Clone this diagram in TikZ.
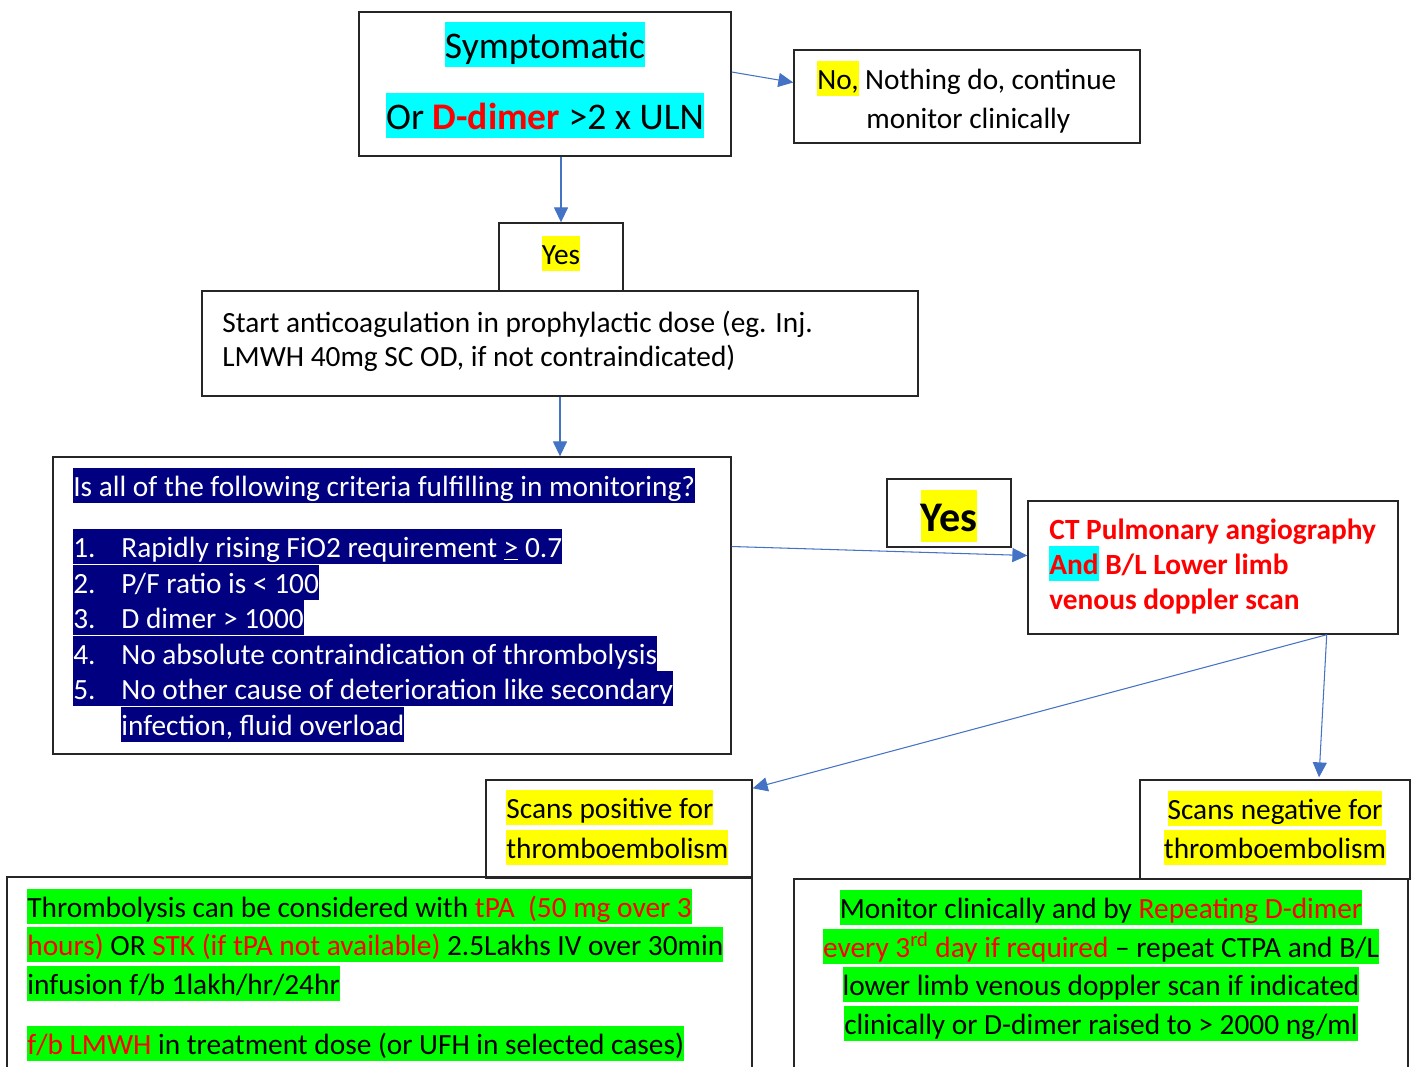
\documentclass[tikz,border=0pt]{standalone}
\usepackage{fontspec}
\setmainfont{Carlito}
\usetikzlibrary{arrows.meta, fit, calc}

\definecolor{hlcyan}{RGB}{0,255,255}
\definecolor{hlyellow}{RGB}{255,255,0}
\definecolor{hlgreen}{RGB}{0,255,0}
\definecolor{hlnavy}{RGB}{0,0,128}
\definecolor{txtred}{RGB}{255,0,0}
\definecolor{arrowblue}{RGB}{68,114,196}

\newcommand{\hlstrut}{\rule[-0.25em]{0pt}{1.22em}}
\newcommand{\hl}[2]{{\setlength{\fboxsep}{0pt}\colorbox{#1}{\hlstrut#2}}}
\newcommand{\rd}[1]{\textcolor{txtred}{#1}}
\newcommand{\critem}[2]{\hl{hlnavy}{\color{white}\makebox[0.96cm][l]{#1}#2}}

\tikzset{
  box/.style={draw=black!85, line width=0.8pt, inner sep=0pt},
  txt/.style={inner sep=0pt, anchor=base west, font=\fontsize{16.7}{20}\selectfont},
  ctxt/.style={txt, anchor=base},
  big/.style={inner sep=0pt, anchor=base, font=\fontsize{21.4}{26}\selectfont},
  cttxt/.style={txt, text=txtred, font=\fontsize{16.7}{20}\selectfont\bfseries},
  arr/.style={draw=arrowblue, line width=0.6pt, -{Triangle[length=8.5pt, width=8pt]}},
}

\begin{document}
\begin{tikzpicture}[x=0.02cm, y=-0.02cm]
\useasboundingbox (0,0) rectangle (1415,1066);
\clip (0,0) rectangle (1415,1066);

% boxes
\node[box, fit={(359,12) (731,156)}] (sympt) {};
\node[box, fit={(794,50) (1140,143)}] (no) {};
\node[box, fit={(499,223) (623,291)}] (yesa) {};
\node[box, fit={(202,291) (918,396)}] (start) {};
\node[box, fit={(53,457) (731,754)}] (crit) {};
\node[box, fit={(887,479) (1011,547)}] (yesb) {};
\node[box, fit={(1028,501) (1398,634)}] (ct) {};
\node[box, fit={(486,780) (752,878)}] (pos) {};
\node[box, fit={(1140,780) (1410,879)}] (neg) {};
\node[box, fit={(7,877) (752,1100)}] (thromb) {};
\node[box, fit={(794,879) (1408,1100)}] (monit) {};

% top
\node[big] (symL1) at (545,58) {\hl{hlcyan}{Symptomatic}};
\node[big] (symL2) at (545,129) {\hl{hlcyan}{Or \textbf{\rd{D-dimer}} >2 x ULN}};
\node[txt] (noL1) at (817,89) {\hl{hlyellow}{No,} Nothing do, continue};
\node[txt] (noL2) at (866,128) {monitor clinically};
\node[ctxt] (yesaL) at (561,264) {\hl{hlyellow}{Yes}};
\node[txt] (startL1) at (222,332) {Start anticoagulation in prophylactic dose (eg. Inj.};
\node[txt] (startL2) at (222,366) {LMWH 40mg SC OD, if not contraindicated)};

% criteria
\node[txt] (critHead) at (73,496) {\hl{hlnavy}{\color{white}Is all of the following criteria fulfilling in monitoring?}};
\node[txt] (crit1) at (73,557) {\critem{1.}{Rapidly rising FiO2 requirement \underline{>} 0.7}};
\node[txt] (crit2) at (73,593) {\critem{2.}{P/F ratio is < 100}};
\node[txt] (crit3) at (73,628) {\critem{3.}{D dimer > 1000}};
\node[txt] (crit4) at (73,664) {\critem{4.}{No absolute contraindication of thrombolysis}};
\node[txt] (crit5) at (73,699) {\critem{5.}{No other cause of deterioration like secondary}};
\node[txt] (crit6) at (121,735) {\hl{hlnavy}{\color{white}infection, fluid overload}};

\node[big, font=\fontsize{24}{28}\selectfont\bfseries] (yesbL) at (949,531) {\hl{hlyellow}{Yes}};
\node[cttxt] (ctL1) at (1049,539) {CT Pulmonary angiography};
\node[cttxt] (ctL2) at (1049,574) {\hl{hlcyan}{And} B/L Lower limb};
\node[cttxt] (ctL3) at (1049,609) {venous doppler scan};

% results
\node[txt] (posL1) at (506,818) {\hl{hlyellow}{Scans positive for}};
\node[txt] (posL2) at (506,858) {\hl{hlyellow}{thromboembolism}};
\node[ctxt] (negL1) at (1275,819) {\hl{hlyellow}{Scans negative for}};
\node[ctxt] (negL2) at (1275,858) {\hl{hlyellow}{thromboembolism}};

\node[txt] (thrL1) at (27,917) {\hl{hlgreen}{Thrombolysis can be considered with \rd{tPA\ \ (50 mg over 3}}};
\node[txt] (thrL2) at (27,955) {\hl{hlgreen}{\rd{hours)} OR \rd{STK (if tPA not available)} 2.5Lakhs IV over 30min}};
\node[txt] (thrL3) at (27,994) {\hl{hlgreen}{infusion f/b 1lakh/hr/24hr}};
\node[txt] (thrL4) at (27,1054) {\hl{hlgreen}{\rd{f/b LMWH} in treatment dose (or UFH in selected cases)}};

\node[ctxt] (monL1) at (1101,918) {\hl{hlgreen}{Monitor clinically and by \rd{Repeating D-dimer}}};
\node[ctxt] (monL2) at (1101,957) {\hl{hlgreen}{\rd{every 3\textsuperscript{rd} day if required} – repeat CTPA and B/L}};
\node[ctxt] (monL3) at (1101,995) {\hl{hlgreen}{lower limb venous doppler scan if indicated}};
\node[ctxt] (monL4) at (1101,1034) {\hl{hlgreen}{clinically or D-dimer raised to > 2000 ng/ml}};

% arrows
\draw[arr] ($(sympt.east)+(0,-12)$) -- ($(no.west)+(0,-14)$);
\draw[arr] (sympt.south -| yesa.north) -- (yesa.north);
\draw[arr] (start.south) -- (start.south |- crit.north);
\draw[arr] ($(crit.east)+(0,-59)$) -- ($(ct.west)+(0,-12)$);
\draw[arr] ($(ct.south east)+(-72,0)$) -- ($(pos.north east)+(0,9)$);
\draw[arr] ($(ct.south east)+(-72,0)$) -- ($(neg.north)+(44,-2)$);
\end{tikzpicture}
\end{document}
